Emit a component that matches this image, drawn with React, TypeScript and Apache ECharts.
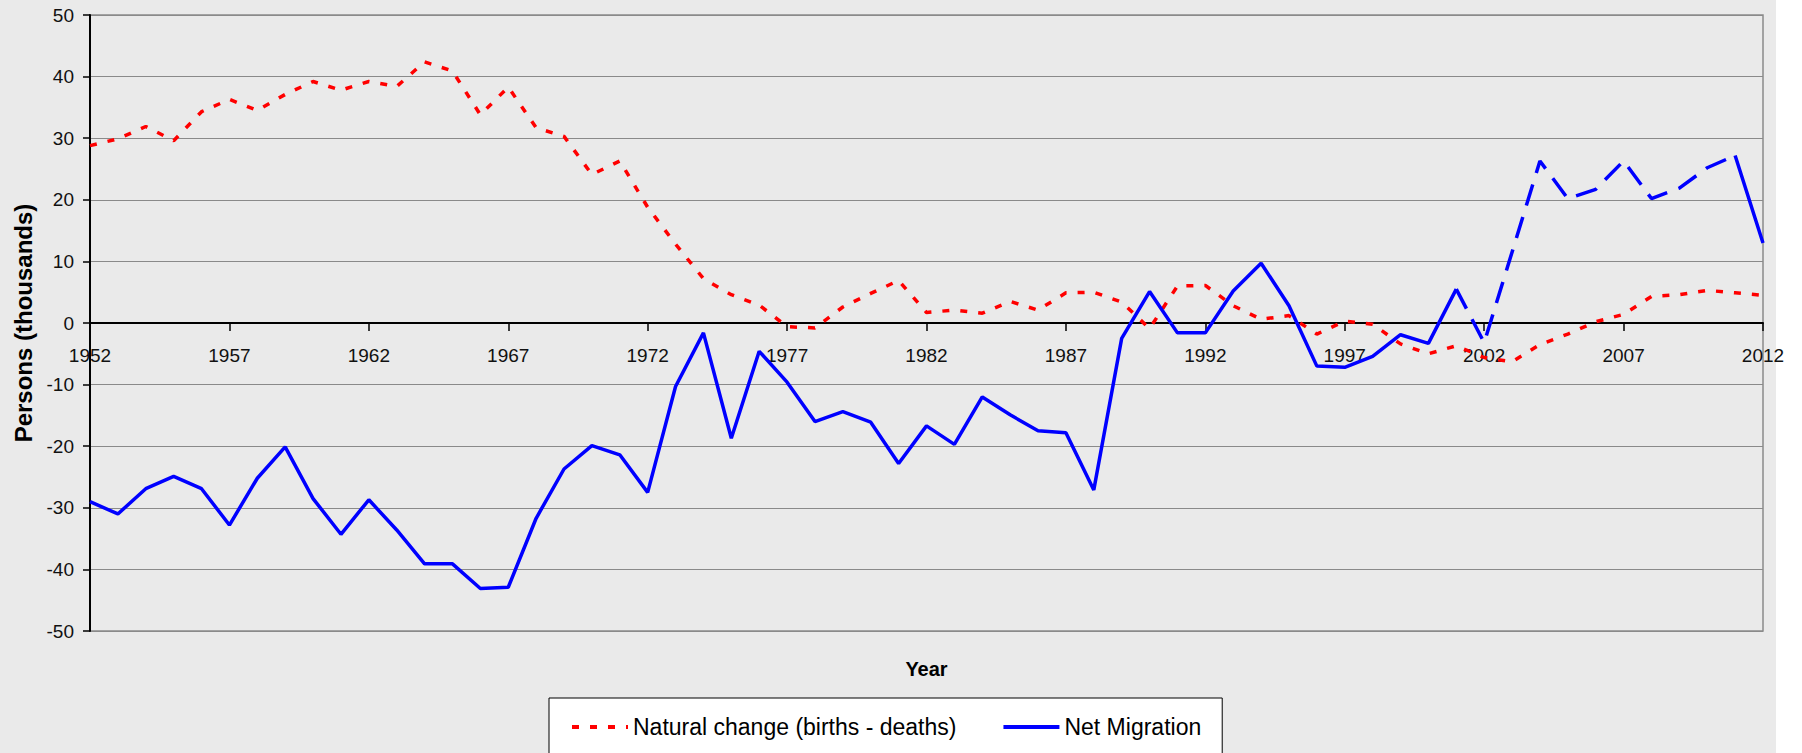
import React, { useEffect, useRef } from "react";
import * as echarts from "echarts";

const years: number[] = [];
for (let y = 1952; y <= 2012; y++) years.push(y);

// Natural change (births - deaths), thousands
const naturalChange: number[] = [
  28.8, 29.9, 31.9, 29.6, 34.3, 36.3, 34.5, 37.1, 39.2, 37.8,
  39.2, 38.4, 42.4, 40.9, 33.8, 38.3, 31.7, 30.3, 24.1, 26.3,
  18.8, 12.8, 7.2, 4.6, 2.9, -0.6, -0.8, 2.6, 4.8, 6.9,
  1.7, 2.1, 1.6, 3.5, 2.1, 4.9, 5.0, 3.4, -0.9, 6.0,
  6.1, 2.8, 0.6, 1.2, -1.8, 0.3, -0.2, -3.4, -5.0, -3.7,
  -5.6, -6.3, -3.5, -1.8, 0.2, 1.4, 4.3, 4.6, 5.3, 4.9,
  4.5,
];

// Net migration, thousands
const netMigration: number[] = [
  -29.0, -31.0, -26.9, -24.9, -26.9, -32.8, -25.2, -20.1, -28.5, -34.3,
  -28.7, -33.6, -39.1, -39.1, -43.1, -42.9, -31.7, -23.7, -19.9, -21.4,
  -27.5, -10.3, -1.6, -18.7, -4.6, -9.6, -16.0, -14.4, -16.1, -22.8,
  -16.7, -19.7, -12.0, -14.9, -17.5, -17.8, -27.1, -2.5, 5.1, -1.6,
  -1.6, 5.2, 9.7, 2.8, -7.0, -7.2, -5.4, -1.9, -3.3, 5.5,
  -3.2, 11.5, 26.3, 20.2, 21.7, 26.3, 20.2, 21.9, 25.2, 27.2,
  13.0,
];

// Net migration segment drawn dashed (estimates)
const dashedFrom = 2001;
const dashedTo = 2011;

const yTicks = { min: -50, max: 50, interval: 10 };

const NAME_NATURAL = "Natural change (births - deaths)";
const NAME_MIGRATION = "Net Migration";

const FONT = "'Liberation Sans', Arial, sans-serif";

const ICON_DOTTED = "path://M0,0h7v4h-7z M18,0h7v4h-7z M36,0h7v4h-7z M54,0h2v4h-2z";
const ICON_SOLID = "path://M0,0h56v4h-56z";

export default function App() {
  const ref = useRef<HTMLDivElement>(null);

  useEffect(() => {
    if (!ref.current) return;
    const chart = echarts.init(ref.current, undefined, { renderer: "svg" });

    const solidData = netMigration.map((v, i) =>
      years[i] > dashedFrom && years[i] < dashedTo ? null : v
    );
    const dashedData = netMigration.map((v, i) =>
      years[i] >= dashedFrom && years[i] <= dashedTo ? v : null
    );

    chart.setOption({
      animation: false,
      backgroundColor: "transparent",
      textStyle: { fontFamily: FONT, color: "#000" },
      grid: {
        left: 90,
        right: 39,
        top: 15,
        bottom: 122,
        show: true,
        borderColor: "#8a8a8a",
        borderWidth: 1.5,
        backgroundColor: "transparent",
        containLabel: false,
        outerBoundsMode: "none",
      },
      legend: {
        data: [
          { name: NAME_NATURAL, icon: ICON_DOTTED, itemStyle: { color: "#ff0000" } },
          { name: NAME_MIGRATION, icon: ICON_SOLID, itemStyle: { color: "#0000ff" } },
        ],
        left: 549,
        top: 698,
        orient: "horizontal",
        backgroundColor: "#ffffff",
        borderColor: "#000000",
        borderWidth: 1,
        borderRadius: 0,
        padding: [14, 21, 40, 23],
        itemWidth: 56,
        itemHeight: 4,
        itemGap: 47,
        selectedMode: false,
        textStyle: { fontSize: 23, color: "#000", fontFamily: FONT, lineHeight: 30 },
      },
      xAxis: {
        type: "category",
        data: years.map(String),
        boundaryGap: false,
        axisLine: { onZero: true, lineStyle: { color: "#000", width: 2 } },
        axisTick: { show: true, interval: 4, length: 8, lineStyle: { color: "#000", width: 1.5 } },
        // labels sit just under the zero line (grid bottom is 307px below it)
        axisLabel: { interval: 4, margin: -285, fontSize: 19, color: "#111", fontFamily: FONT },
        splitLine: { show: false },
        name: "Year",
        nameLocation: "middle",
        nameGap: 28,
        nameTextStyle: { fontWeight: "bold", fontSize: 20, color: "#000", fontFamily: FONT },
      },
      yAxis: {
        type: "value",
        min: yTicks.min,
        max: yTicks.max,
        interval: yTicks.interval,
        axisLine: { show: true, lineStyle: { color: "#000", width: 2 } },
        axisTick: { show: true, length: 7, lineStyle: { color: "#000", width: 1.5 } },
        axisLabel: { margin: 16, fontSize: 19, color: "#111", fontFamily: FONT },
        splitLine: { show: true, lineStyle: { color: "#8a8a8a", width: 1 } },
        name: "Persons (thousands)",
        nameLocation: "middle",
        nameGap: 55,
        nameTextStyle: { fontWeight: "bold", fontSize: 24, color: "#000", fontFamily: FONT },
      },
      series: [
        {
          name: NAME_NATURAL,
          type: "line",
          data: naturalChange,
          symbol: "none",
          color: "#ff0000",
          lineStyle: { color: "#ff0000", width: 3.5, type: [7, 11], cap: "butt" },
          z: 3,
        },
        {
          name: NAME_MIGRATION,
          type: "line",
          data: solidData,
          symbol: "none",
          connectNulls: false,
          color: "#0000ff",
          lineStyle: { color: "#0000ff", width: 3.5, type: "solid" },
          z: 4,
        },
        {
          name: NAME_MIGRATION + " (dashed)",
          type: "line",
          data: dashedData,
          symbol: "none",
          connectNulls: false,
          color: "#0000ff",
          lineStyle: { color: "#0000ff", width: 3.5, type: [22, 12], cap: "butt" },
          z: 4,
        },
      ],
    });

    return () => chart.dispose();
  }, []);

  return (
    <div
      style={{
        position: "absolute",
        left: 0,
        top: 0,
        width: 1802,
        height: 753,
        background: "linear-gradient(to right, #eaeaea 0px, #eaeaea 1776px, #ffffff 1776px)",
        overflow: "hidden",
      }}
    >
      <div ref={ref} style={{ width: 1802, height: 753 }} />
    </div>
  );
}
